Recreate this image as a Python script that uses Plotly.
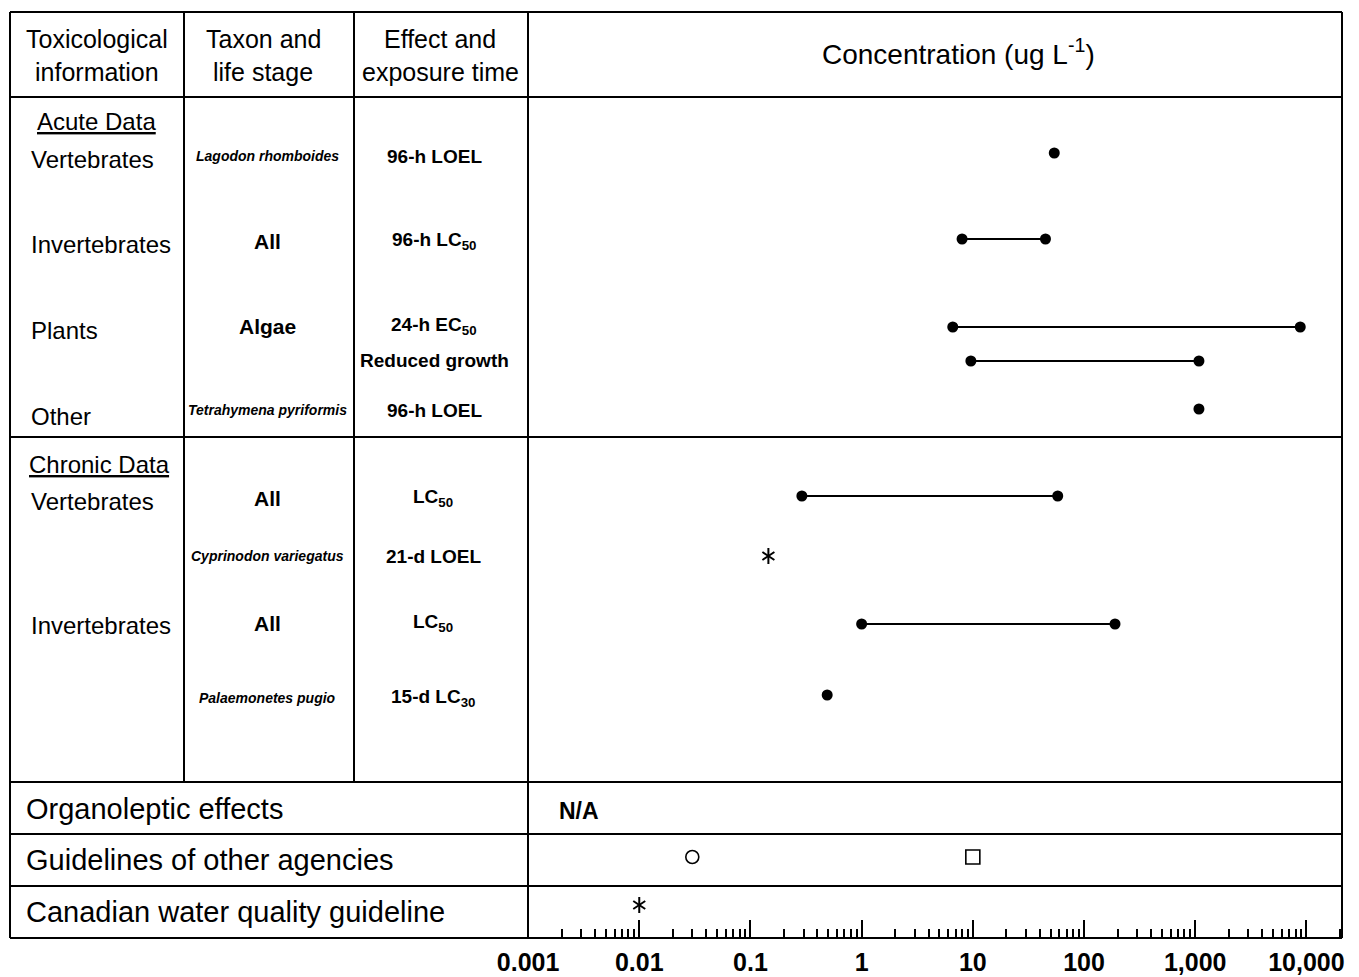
import plotly.graph_objects as go

W, H = 1359, 977

# ---------------- data ----------------
acute_taxa = ["Vertebrates", "Invertebrates", "Plants", "Other"]
acute_species = ["Lagodon rhomboides", "All", "Algae", "", "Tetrahymena pyriformis"]
acute_effects = ["96-h LOEL", "96-h LC<sub>50</sub>", "24-h EC<sub>50</sub>", "Reduced growth", "96-h LOEL"]
acute_low = [54, 8, 6.6, 9.6, 1080]
acute_high = [None, 45, 8800, 1080, None]

chronic_taxa = ["Vertebrates", "Invertebrates"]
chronic_species = ["All", "Cyprinodon variegatus", "All", "Palaemonetes pugio"]
chronic_effects = ["LC<sub>50</sub>", "21-d LOEL", "LC<sub>50</sub>", "15-d LC<sub>30</sub>"]
chronic_low = [0.29, 0.145, 1.0, 0.49]
chronic_high = [58, None, 190, None]
chronic_asterisk = [False, True, False, False]

other_agency_circle = [0.03]
other_agency_square = [10]
cwqg_value = [0.01]

tick_values = [0.001, 0.01, 0.1, 1, 10, 100, 1000, 10000]
tick_labels = ["0.001", "0.01", "0.1", "1", "10", "100", "1,000", "10,000"]

header_cols = [["Toxicological", "information"], ["Taxon and", "life stage"], ["Effect and", "exposure time"]]
bottom_rows = ["Organoleptic effects", "Guidelines of other agencies", "Canadian water quality guideline"]

# ---------------- layout geometry (pixels) ----------------
LEFT, RIGHT, TOP, BOTTOM = 10, 1342, 12, 938
COL1, COL2, COL3 = 184, 354, 528
H_HEADER, H_ACUTE, H_CHRONIC, H_ORG, H_GUID = 97, 437, 782, 834, 886

acute_mark_y = [153, 239, 327, 361, 409]
acute_text_y = [156, 241, 326, 360, 410]
acute_taxa_y = [159, 245, 331, 416]
chronic_mark_y = [496, 556, 624, 695]
chronic_text_y = [498, 556, 623, 698]
chronic_taxa_y = [501, 625]
guid_y = 857
cwqg_y = 905

FONT = "Liberation Sans, Arial, Helvetica, sans-serif"


def px(x):
    return x / W


def py(y):
    return 1 - y / H


fig = go.Figure()


def add_row(lo, hi, y, asterisk=False):
    if asterisk:
        for sym in ("y-up-open", "y-down-open"):
            fig.add_trace(go.Scatter(x=[lo], y=[y], mode="markers",
                                     marker=dict(symbol=sym, size=10, color="black",
                                                 line=dict(width=2, color="black")),
                                     showlegend=False, hoverinfo="x"))
        return
    if hi is None:
        fig.add_trace(go.Scatter(x=[lo], y=[y], mode="markers",
                                 marker=dict(symbol="circle", size=11, color="black"),
                                 showlegend=False, hoverinfo="x"))
    else:
        fig.add_trace(go.Scatter(x=[lo, hi], y=[y, y], mode="lines+markers",
                                 line=dict(color="black", width=1.8),
                                 marker=dict(symbol="circle", size=11, color="black"),
                                 showlegend=False, hoverinfo="x"))


for lo, hi, y in zip(acute_low, acute_high, acute_mark_y):
    add_row(lo, hi, y)
for lo, hi, y, ast in zip(chronic_low, chronic_high, chronic_mark_y, chronic_asterisk):
    add_row(lo, hi, y, ast)

fig.add_trace(go.Scatter(x=other_agency_circle, y=[guid_y] * len(other_agency_circle), mode="markers",
                         marker=dict(symbol="circle-open", size=13, color="black", line=dict(width=1.6)),
                         showlegend=False, hoverinfo="x"))
fig.add_trace(go.Scatter(x=other_agency_square, y=[guid_y] * len(other_agency_square), mode="markers",
                         marker=dict(symbol="square-open", size=14, color="black", line=dict(width=1.6)),
                         showlegend=False, hoverinfo="x"))
for sym in ("y-up-open", "y-down-open"):
    fig.add_trace(go.Scatter(x=cwqg_value, y=[cwqg_y] * len(cwqg_value), mode="markers",
                             marker=dict(symbol=sym, size=10, color="black", line=dict(width=2, color="black")),
                             showlegend=False, hoverinfo="x"))

# ---- table lines ----
shapes = []


def hline(y, x0=LEFT, x1=RIGHT, w=2):
    shapes.append(dict(type="line", xref="paper", yref="paper", x0=px(x0), x1=px(x1),
                       y0=py(y), y1=py(y), line=dict(color="black", width=w)))


def vline(x, y0, y1, w=2):
    shapes.append(dict(type="line", xref="paper", yref="paper", x0=px(x), x1=px(x),
                       y0=py(y0), y1=py(y1), line=dict(color="black", width=w)))


hline(TOP)
hline(BOTTOM)
vline(LEFT, TOP, BOTTOM)
vline(RIGHT, TOP, BOTTOM)
for y in (H_HEADER, H_ACUTE, H_CHRONIC, H_ORG, H_GUID):
    hline(y)
vline(COL1, TOP, H_CHRONIC)
vline(COL2, TOP, H_CHRONIC)
vline(COL3, TOP, BOTTOM)

# ---- text ----
ann = []


def text(t, x, y, size, anchor="center", bold=False, italic=False):
    if bold:
        t = "<b>" + t + "</b>"
    if italic:
        t = "<i>" + t + "</i>"
    ann.append(dict(text=t, x=px(x), y=py(y), xref="paper", yref="paper", showarrow=False,
                    xanchor=anchor, yanchor="middle", font=dict(family=FONT, size=size, color="black")))


col_centers = [97, 263, 440]
for (l1, l2), cx in zip(header_cols, col_centers):
    text(l1, cx, 39, 25)
    text(l2, cx, 72, 25)
text("Concentration (ug L<sup>-1</sup>)", 958, 52, 28)

text("<u>Acute Data</u>", 35, 121, 24, anchor="left")
for t, y in zip(acute_taxa, acute_taxa_y):
    text(t, 29, y, 24, anchor="left")
for t, y in zip(acute_species, acute_text_y):
    if t:
        it = t not in ("All", "Algae")
        text(t, 267, y, 14 if it else 21, bold=True, italic=it)
for t, y in zip(acute_effects, acute_text_y):
    text(t, 434, y, 19, bold=True)

text("<u>Chronic Data</u>", 27, 464, 24, anchor="left")
for t, y in zip(chronic_taxa, chronic_taxa_y):
    text(t, 29, y, 24, anchor="left")
for t, y in zip(chronic_species, chronic_text_y):
    it = t not in ("All", "Algae")
    text(t, 267, y, 14 if it else 21, bold=True, italic=it)
for t, y in zip(chronic_effects, chronic_text_y):
    text(t, 433, y, 19, bold=True)

for t, y in zip(bottom_rows, [809, 860, 912]):
    text(t, 24, y, 29, anchor="left")
text("N/A", 557, 811, 23, anchor="left", bold=True)

fig.update_layout(
    width=W, height=H, autosize=False,
    margin=dict(l=0, r=0, t=0, b=0, pad=0, autoexpand=False),
    paper_bgcolor="white", plot_bgcolor="white",
    shapes=shapes, annotations=ann, showlegend=False,
    xaxis=dict(
        type="log", range=[-3.0005, 4.32], domain=[px(COL3), px(RIGHT)],
        tickmode="array", tickvals=tick_values, ticktext=tick_labels,
        ticks="inside", ticklen=18, tickwidth=2, tickcolor="black",
        minor=dict(dtick="D1", ticks="inside", ticklen=9, tickwidth=1.5, tickcolor="black", showgrid=False),
        showgrid=False, zeroline=False, showline=False, automargin=False,
        tickfont=dict(family=FONT, size=25, color="black", weight="bold"),
        ticklabelstandoff=7,
        anchor="y", fixedrange=True,
    ),
    yaxis=dict(
        range=[BOTTOM, TOP], domain=[py(BOTTOM), py(TOP)], visible=False,
        showgrid=False, zeroline=False, fixedrange=True, automargin=False,
    ),
)

fig.write_html("out.html", config={"displayModeBar": False},
               post_script="document.body.style.margin='0';document.body.style.overflow='hidden';")
